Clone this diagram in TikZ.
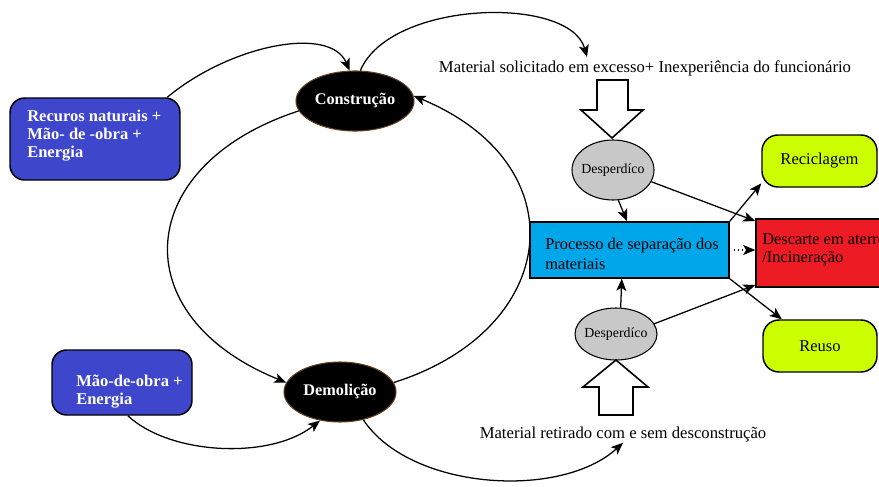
\documentclass[tikz,border=0pt]{standalone}
\usepackage{fontspec}
\setmainfont{Liberation Serif}
\usetikzlibrary{shapes.geometric,arrows.meta}

\definecolor{boxblue}{RGB}{62,70,204}
\definecolor{sepcyan}{RGB}{0,166,234}
\definecolor{discred}{RGB}{237,28,36}
\definecolor{reuselime}{RGB}{204,255,0}
\definecolor{wastegray}{RGB}{200,200,200}

\tikzset{
  flow/.style={-{Stealth[length=9pt,width=7.5pt,inset=2.2pt]}, line width=0.95pt},
  bluebox/.style={draw, line width=1.1pt, fill=boxblue, rounded corners=11pt, inner sep=0pt},
  bluetext/.style={text=white, align=left, inner sep=0pt, font=\fontsize{12.4}{13.5}\selectfont\bfseries},
  stage/.style={ellipse, draw=brown!50!black, line width=0.8pt, fill=black, text=white, inner sep=0pt, font=\fontsize{12.2}{14}\selectfont\bfseries},
  waste/.style={ellipse, draw, line width=0.8pt, fill=wastegray, inner sep=0pt},
  wastetext/.style={inner sep=0pt, font=\fontsize{10.4}{12}\selectfont},
  limebox/.style={draw, line width=1.1pt, fill=reuselime, rounded corners=12pt, inner sep=0pt, font=\fontsize{12.4}{14}\selectfont},
  plainbox/.style={draw, line width=1.2pt, inner sep=0pt},
  boxtext/.style={align=left, inner sep=0pt, font=\fontsize{12.3}{15}\selectfont},
  note/.style={inner sep=0.75pt, font=\fontsize{12.5}{15}\selectfont},
  hollow/.style={draw, line width=1.2pt, fill=white, line join=miter}
}

\begin{document}
\begin{tikzpicture}[x=0.75pt,y=0.75pt,yscale=-1,xscale=1]
\useasboundingbox (0,0) rectangle (879,486);
\clip (0,0) rectangle (879,486);

%Shape: Rounded Rect [id:recur]
\node[bluebox, minimum width=127.5pt, minimum height=61.5pt] (recur) at (95,139) {};
% Text Node
\node[bluetext, anchor=west] (recurtxt) at (27,136) {Recuros naturais +\\Mão- de -obra +\\Energia};
%Shape: Rounded Rect [id:mao]
\node[bluebox, minimum width=105pt, minimum height=48.75pt] (mao) at (122,382.5) {};
% Text Node
\node[bluetext, anchor=west] (maotxt) at (76,392) {Mão-de-obra +\\Energia};

%Shape: Ellipse [id:constr]
\node[stage, minimum width=88.5pt, minimum height=45pt] (constr) at (355,101) {Construção};
%Shape: Ellipse [id:demol]
\node[stage, minimum width=84pt, minimum height=45pt] (demol) at (340,392) {Demolição};

% Text Node
\node[note] (solic) at (645,68) {Material solicitado em excesso+ Inexperiência do funcionário};
% Text Node
\node[note] (retir) at (623,434) {Material retirado com e sem desconstrução};
\coordinate (solicIn) at (587,57);

%Shape: Ellipse [id:desp1]
\node[waste, minimum width=61.5pt, minimum height=45pt] (desp1) at (613,170) {};
\node[wastetext] (desp1txt) at (desp1) {Desperdíco};
%Shape: Ellipse [id:desp2]
\node[waste, minimum width=61.5pt, minimum height=39pt] (desp2) at (616,334) {};
\node[wastetext] (desp2txt) at (desp2) {Desperdíco};

%Shape: Rectangle [id:proc]
\node[plainbox, fill=sepcyan, minimum width=149.25pt, minimum height=42pt] (proc) at (629.5,250) {};
\node[boxtext, anchor=west] (proctxt) at (545,254) {Processo de separação dos\\materiais};
%Shape: Rectangle [id:desc]
\node[plainbox, fill=discred, minimum width=111.75pt, minimum height=51pt] (desc) at (830.5,253) {};
\node[boxtext, anchor=west, font=\fontsize{12.3}{13}\selectfont] (desctxt) at (762,250) {Descarte em aterro\\/Incineração};
%Shape: Rounded Rect [id:recic]
\node[limebox, minimum width=86.25pt, minimum height=39pt] (recic) at (819.5,161) {Reciclagem};
%Shape: Rounded Rect [id:reuso]
\node[limebox, minimum width=85.5pt, minimum height=39pt] (reuso) at (820,346) {Reuso};

%Shape: Hollow arrows
\draw[hollow] (597,80) -- (628,80) -- (628,110) -- (643,110) -- (612,138) -- (581,110) -- (597,110) -- cycle;
\draw[hollow] (599,415) -- (633,415) -- (633,387) -- (648,387) -- (616,360) -- (583,387) -- (599,387) -- cycle;

%Curve Lines: the cycle
\draw[flow] (constr.190) .. controls (133,165) and (122,316) .. (demol.170);
\draw[flow] (demol.10) .. controls (560,330) and (580,165) .. (constr.5);
\draw[flow] (recur.30) .. controls (230,45) and (330,25) .. (constr.100);
\draw[flow] (constr.80) .. controls (390,0) and (570,-5) .. (solicIn);
\draw[flow] (mao.-80) .. controls (170,455) and (270,460) .. (demol.235);
\draw[flow] (demol.-50) .. controls (410,490) and (560,500) .. (retir.south);

%Straight Lines
\draw[flow] (desp1.-80) -- (proc.95);
\draw[flow] (desp1.-17) -- (desc.157);
\draw[flow] (proc.north east) -- (recic.201);
\draw[flow, dotted, shorten <=3pt] (proc.east) -- (proc.east -| desc.west);
\draw[flow] (proc.south east) -- (reuso.145);
\draw[flow] (desp2.15) -- (desc.203);
\draw[flow] (desp2.80) -- (proc.255);

\end{tikzpicture}
\end{document}
